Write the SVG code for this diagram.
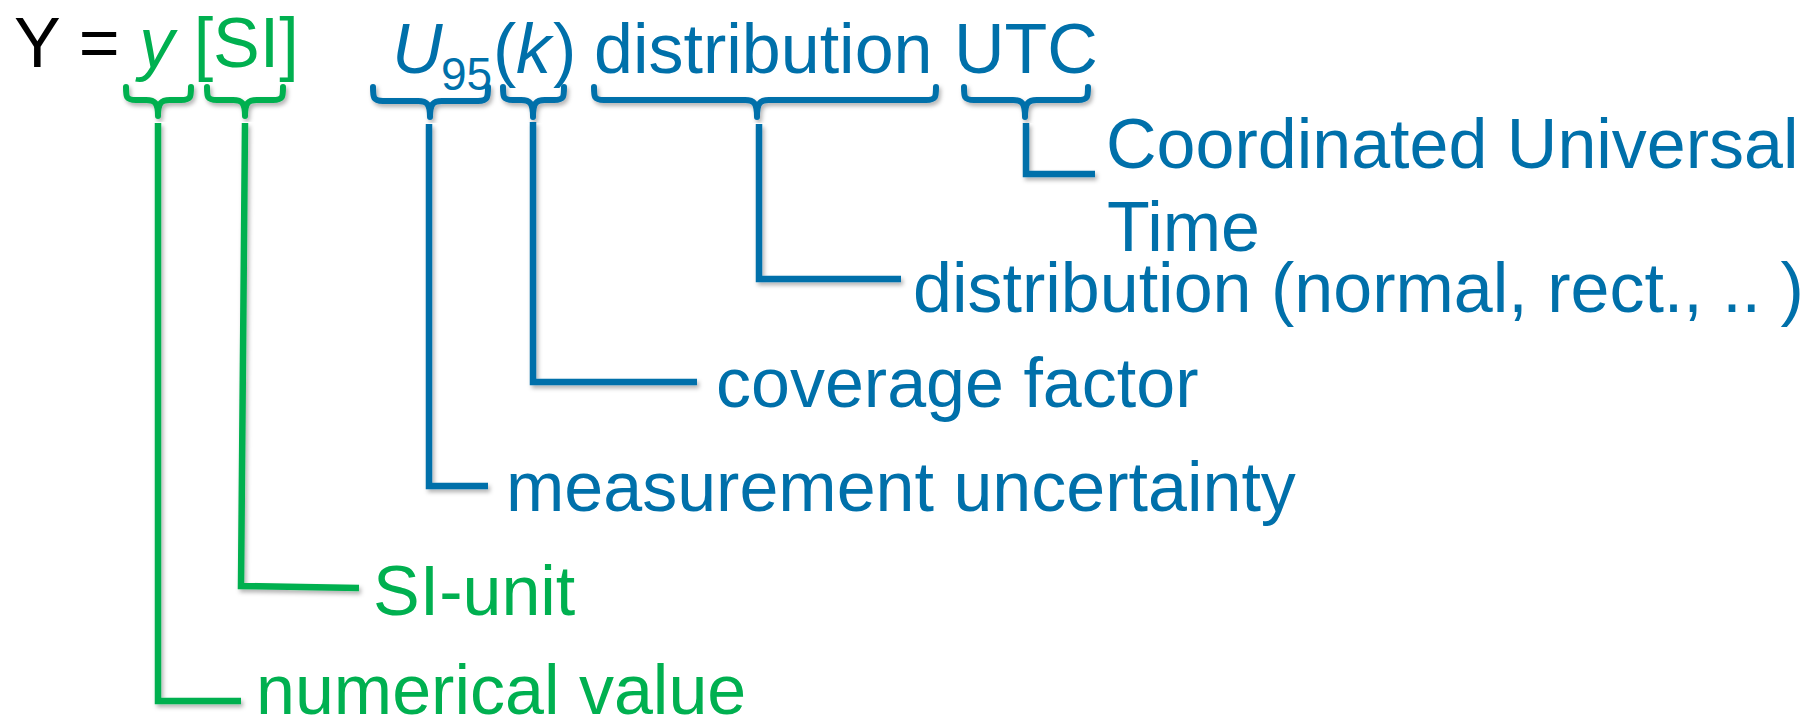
<svg xmlns="http://www.w3.org/2000/svg" width="1813" height="720" viewBox="0 0 1813 720">
  <defs>
    <filter id="sh" x="-20%" y="-20%" width="140%" height="140%">
      <feDropShadow dx="2" dy="3" stdDeviation="2" flood-color="#000" flood-opacity="0.3"/>
    </filter>
    <style>
      text { font-family: "Liberation Sans", Arial, sans-serif; font-size: 70px; }
      .blk { fill: #000; }
      .grn { fill: #00B050; }
      .blu { fill: #0070AA; }
      .it { font-style: italic; }
      .sub { font-size: 46px; }
      .brace { fill: none; stroke-width: 6; stroke-linecap: round; stroke-linejoin: round; filter: url(#sh); }
      .ln { fill: none; stroke-width: 6.5; stroke-linecap: butt; stroke-linejoin: miter; filter: url(#sh); }
      .g { stroke: #00B050; }
      .b { stroke: #0070AA; }
    </style>
  </defs>
  <rect width="1813" height="720" fill="#fff"/>

  <g id="formula">
    <text x="14" y="67" class="blk">Y = <tspan class="grn it">y</tspan><tspan class="grn"> [SI]</tspan></text>
    <text x="392" y="73" class="blu it">U</text>
    <text x="441" y="90" class="blu sub">95</text>
    <text x="493" y="73" class="blu">(</text>
    <text x="516" y="73" class="blu it">k</text>
    <text x="553" y="73" class="blu">)</text>
    <text x="594" y="73" class="blu">distribution</text>
    <text x="954" y="73" class="blu">UTC</text>
  </g>

  <g id="braces">
    <path class="brace g" d="M126 87 C126 97 126 100 136 100 L146 100 C155 100 158 103 158 116 C158 103 161 100 170 100 L181 100 C191 100 191 97 191 87"/>
    <path class="brace g" d="M207 87 C207 97 207 100 217 100 L233 100 C242 100 245 103 245 116 C245 103 248 100 257 100 L273 100 C283 100 283 97 283 87"/>
    <path class="brace b" d="M373 87 C373 97 373 101 383 101 L418 101 C427 101 430 104 430 117 C430 104 433 101 442 101 L478 101 C488 101 488 97 488 87"/>
    <path class="brace b" d="M503 87 C503 97 503 100 513 100 L521 100 C530 100 533 103 533 117 C533 103 536 100 545 100 L554 100 C564 100 564 97 564 87"/>
    <path class="brace b" d="M594 87 C594 97 594 100 604 100 L745 100 C754 100 757 103 757 117 C757 103 760 100 769 100 L926 100 C936 100 936 97 936 87"/>
    <path class="brace b" d="M964 87 C964 97 964 100 974 100 L1013 100 C1022 100 1025 103 1025 117 C1025 103 1028 100 1037 100 L1078 100 C1088 100 1088 97 1088 87"/>
  </g>

  <g id="connectors">
    <path class="ln g" d="M158 123 L158 701 L241 701"/>
    <path class="ln g" d="M245 123 L241 586 L359 588"/>
    <path class="ln b" d="M429 124 L429 486 L488 486"/>
    <path class="ln b" d="M533 122 L533 382 L697 382"/>
    <path class="ln b" d="M759 124 L759 279 L901 279"/>
    <path class="ln b" d="M1026 123 L1026 174 L1095 174"/>
  </g>

  <g id="label-utc">
    <text x="1106" y="168" class="blu">Coordinated Universal</text>
    <text x="1107" y="251" class="blu">Time</text>
  </g>
  <g id="label-distribution">
    <text x="913" y="312" class="blu">distribution (normal, rect., .. )</text>
  </g>
  <g id="label-coverage">
    <text x="716" y="407" class="blu">coverage factor</text>
  </g>
  <g id="label-uncertainty">
    <text x="506" y="511" class="blu">measurement uncertainty</text>
  </g>
  <g id="label-si">
    <text x="373" y="615" class="grn">SI-unit</text>
  </g>
  <g id="label-numerical">
    <text x="256" y="714" class="grn">numerical value</text>
  </g>
</svg>
